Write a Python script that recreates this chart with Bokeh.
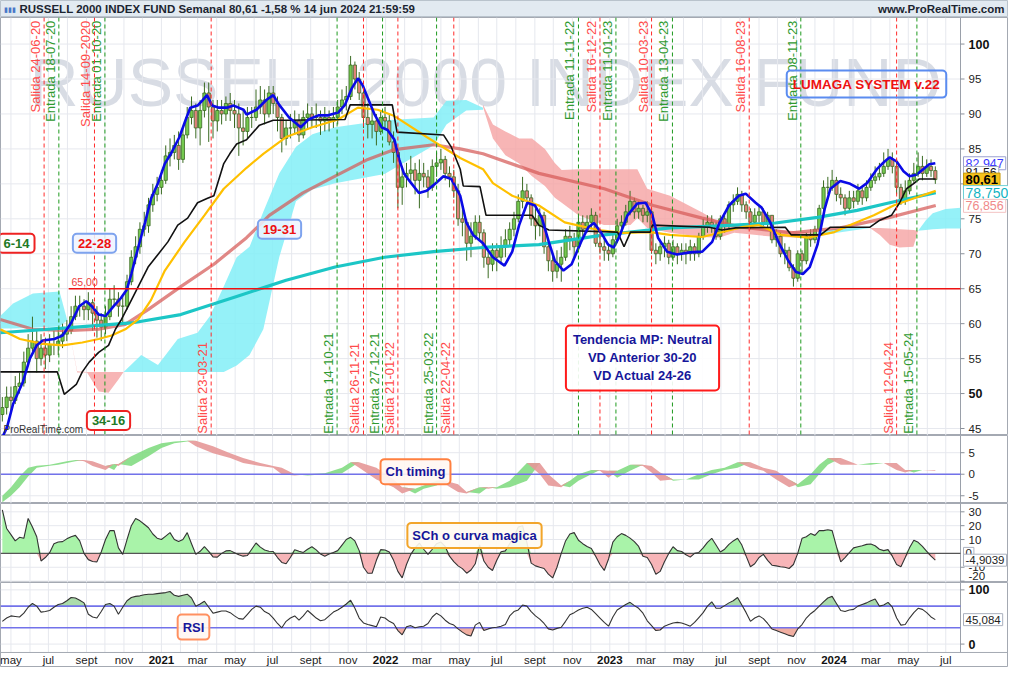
import numpy as np
import pandas as pd
from bokeh.plotting import figure
from bokeh.layouts import column
from bokeh.models import Range1d, Span, Label, ColumnDataSource
from bokeh.core.properties import value
from bokeh.embed import file_html
from bokeh.resources import INLINE

FONT = "Liberation Sans"

# ---------------------------------------------------------------- data
first_bar = "2020-04-17"          # first weekly bar shown
x_start, x_end = "2020-04-14", "2024-07-25"

close = [48.0, 49.5, 49.0, 51.0, 51.5, 54.5, 56.5, 57.5, 55.0, 56.5,
         55.5, 57.0, 57.0, 57.5, 58.5, 59.0, 61.0, 62.5, 62.5, 62.0,
         63.0, 61.5, 60.5, 59.5, 61.0, 63.5, 63.5, 62.5, 62.5, 66.0,
         69.5, 71.0, 73.5, 74.0, 77.0, 78.5, 79.5, 80.5, 84.0, 84.5,
         85.5, 83.5, 87.0, 89.5, 90.5, 88.0, 90.5, 93.0, 91.0, 89.0,
         90.5, 90.0, 91.5, 90.5, 90.0, 88.0, 87.5, 89.5, 89.5, 91.0,
         92.0, 90.0, 93.0, 91.5, 89.5, 86.5, 88.0, 88.0, 89.0, 87.0,
         89.5, 90.0, 89.5, 89.5, 89.0, 89.5, 89.0, 89.5, 91.0, 92.0,
         92.5, 97.0, 95.0, 93.0, 89.5, 88.5, 89.0, 87.5, 89.5, 89.0,
         86.0, 84.5, 79.5, 81.0, 81.5, 82.0, 80.5, 81.5, 81.0, 79.5,
         82.5, 83.0, 83.5, 81.5, 81.0, 79.0, 75.0, 74.5, 71.5, 72.5,
         74.5, 73.0, 69.5, 68.5, 70.5, 69.5, 71.0, 72.0, 73.5, 75.0,
         77.5, 79.0, 78.0, 75.0, 74.0, 75.5, 71.0, 69.0, 67.5, 68.5,
         69.5, 72.5, 72.0, 71.0, 74.5, 73.5, 74.5, 75.5, 71.5, 71.0,
         70.5, 70.0, 72.0, 74.0, 74.5, 76.0, 77.5, 76.0, 76.5, 75.5,
         76.0, 70.5, 70.0, 71.0, 71.5, 69.5, 71.0, 70.0, 70.5, 70.0,
         71.0, 70.0, 72.5, 74.0, 74.5, 74.0, 72.5, 75.0, 74.0, 77.0,
         77.5, 78.5, 77.0, 76.0, 74.5, 75.5, 76.0, 74.5, 75.5, 72.0,
         72.5, 70.0, 70.5, 68.0, 66.5, 70.0, 69.0, 72.5, 72.0, 73.5,
         76.5, 79.5, 79.5, 80.5, 78.5, 78.0, 76.5, 78.0, 77.5, 79.0,
         78.0, 79.5, 80.5, 81.0, 81.5, 82.5, 83.5, 82.5, 79.5, 77.5,
         79.0, 80.5, 81.5, 82.5, 81.5, 82.5, 81.9, 80.61]

open_ = [47.0, 48.0, 49.5, 49.0, 51.0, 51.5, 54.5, 56.5, 57.5, 55.0,
         56.5, 55.5, 57.0, 57.0, 57.5, 58.5, 59.0, 61.0, 62.5, 62.5,
         62.0, 63.0, 61.5, 60.5, 59.5, 61.0, 63.5, 63.5, 62.5, 62.5,
         66.0, 69.5, 71.0, 73.5, 74.0, 77.0, 78.5, 79.5, 80.5, 84.0,
         84.5, 85.5, 83.5, 87.0, 89.5, 90.5, 88.0, 90.5, 93.0, 91.0,
         89.0, 90.5, 90.0, 91.5, 90.5, 90.0, 88.0, 87.5, 89.5, 89.5,
         91.0, 92.0, 90.0, 93.0, 91.5, 89.5, 86.5, 88.0, 88.0, 89.0,
         87.0, 89.5, 90.0, 89.5, 89.5, 89.0, 89.5, 89.0, 89.5, 91.0,
         92.0, 92.5, 97.0, 95.0, 93.0, 89.5, 88.5, 89.0, 87.5, 89.5,
         89.0, 86.0, 84.5, 79.5, 81.0, 81.5, 82.0, 80.5, 81.5, 81.0,
         79.5, 82.5, 83.0, 83.5, 81.5, 81.0, 79.0, 75.0, 74.5, 71.5,
         72.5, 74.5, 73.0, 69.5, 68.5, 70.5, 69.5, 71.0, 72.0, 73.5,
         75.0, 77.5, 79.0, 78.0, 75.0, 74.0, 75.5, 71.0, 69.0, 67.5,
         68.5, 69.5, 72.5, 72.0, 71.0, 74.5, 73.5, 74.5, 75.5, 71.5,
         71.0, 70.5, 70.0, 72.0, 74.0, 74.5, 76.0, 77.5, 76.0, 76.5,
         75.5, 76.0, 70.5, 70.0, 71.0, 71.5, 69.5, 71.0, 70.0, 70.5,
         70.0, 71.0, 70.0, 72.5, 74.0, 74.5, 74.0, 72.5, 75.0, 74.0,
         77.0, 77.5, 78.5, 77.0, 76.0, 74.5, 75.5, 76.0, 74.5, 75.5,
         72.0, 72.5, 70.0, 70.5, 68.0, 66.5, 70.0, 69.0, 72.5, 72.0,
         73.5, 76.5, 79.5, 79.5, 80.5, 78.5, 78.0, 76.5, 78.0, 77.5,
         79.0, 78.0, 79.5, 80.5, 81.0, 81.5, 82.5, 83.5, 82.5, 79.5,
         77.5, 79.0, 80.5, 81.5, 82.5, 81.5, 82.5, 81.9]

high = [49.5, 51.0, 51.0, 52.5, 53.0, 56.0, 58.5, 61.0, 59.0, 58.5,
        58.0, 58.5, 59.0, 59.5, 60.0, 60.5, 62.5, 64.0, 64.0, 63.5,
        64.5, 63.5, 62.5, 61.5, 62.5, 65.0, 65.5, 64.5, 64.0, 67.0,
        70.5, 72.5, 74.5, 76.0, 78.0, 80.0, 81.0, 82.0, 85.5, 86.5,
        87.0, 87.5, 88.0, 91.0, 92.5, 91.5, 92.0, 94.5, 94.5, 92.0,
        92.0, 92.0, 92.5, 93.0, 92.0, 91.5, 90.5, 91.0, 91.0, 93.5,
        94.0, 93.5, 94.0, 94.0, 92.5, 90.0, 89.0, 90.0, 90.5, 90.0,
        90.5, 91.5, 91.0, 91.5, 90.5, 91.0, 90.5, 91.0, 92.0, 93.5,
        94.0, 98.3, 97.5, 96.0, 94.0, 91.5, 91.0, 90.0, 90.5, 91.0,
        90.0, 87.5, 85.0, 82.5, 83.0, 84.0, 83.0, 83.5, 83.0, 82.0,
        83.5, 84.5, 85.0, 84.0, 82.5, 82.0, 80.0, 77.0, 75.0, 74.5,
        75.5, 75.5, 73.5, 70.5, 71.5, 71.5, 72.5, 73.5, 74.5, 76.0,
        78.5, 81.0, 80.0, 78.5, 76.5, 76.5, 76.0, 71.5, 70.0, 70.5,
        71.0, 73.5, 74.0, 73.0, 75.5, 75.5, 75.5, 76.5, 76.0, 73.5,
        72.5, 71.5, 73.0, 75.0, 75.5, 77.0, 79.0, 78.0, 77.5, 77.0,
        77.5, 76.5, 71.5, 72.0, 72.5, 72.0, 72.0, 71.5, 71.5, 71.5,
        72.0, 71.5, 73.0, 75.0, 75.5, 75.5, 74.5, 75.5, 75.5, 77.5,
        78.5, 79.5, 79.0, 77.5, 76.5, 76.5, 77.0, 76.5, 76.0, 75.5,
        73.5, 73.0, 71.5, 71.0, 68.5, 70.5, 70.5, 73.0, 73.5, 74.0,
        77.0, 80.5, 81.0, 82.0, 81.0, 79.5, 78.5, 79.0, 79.0, 80.0,
        79.5, 80.5, 81.5, 82.5, 83.0, 84.5, 85.0, 84.5, 83.5, 80.0,
        80.5, 81.5, 83.0, 84.5, 84.0, 83.5, 83.5, 82.5]

low = [46.0, 47.0, 47.5, 48.5, 50.0, 51.0, 54.0, 56.0, 53.0, 54.0,
       53.5, 54.5, 55.5, 55.5, 56.5, 57.5, 58.5, 60.5, 61.0, 60.5,
       60.5, 59.0, 58.0, 57.5, 58.5, 60.5, 62.5, 61.0, 60.0, 62.0,
       65.5, 68.5, 70.0, 72.5, 73.0, 76.0, 77.5, 78.5, 80.0, 82.5,
       83.5, 82.0, 83.0, 86.5, 88.5, 86.5, 85.5, 89.5, 86.0, 86.5,
       87.5, 88.5, 89.0, 89.0, 88.0, 84.0, 85.5, 86.5, 88.0, 89.0,
       90.0, 88.5, 89.5, 90.0, 87.5, 84.5, 85.5, 86.5, 87.0, 86.0,
       86.5, 88.0, 88.0, 88.0, 87.0, 87.5, 87.5, 88.0, 88.5, 90.0,
       90.5, 92.0, 93.5, 92.0, 88.0, 86.5, 86.5, 85.5, 87.0, 88.0,
       85.5, 83.0, 76.5, 77.0, 79.5, 80.0, 78.5, 76.5, 79.5, 78.0,
       79.0, 81.0, 82.0, 80.5, 79.5, 78.0, 74.0, 72.5, 69.0, 69.5,
       72.0, 72.0, 68.0, 66.5, 67.5, 67.5, 68.5, 69.5, 71.0, 72.5,
       74.5, 76.5, 77.0, 74.0, 72.0, 72.5, 70.0, 67.5, 66.0, 66.5,
       66.0, 69.0, 70.5, 69.5, 70.5, 72.5, 73.0, 73.5, 71.0, 70.0,
       69.0, 69.0, 69.5, 71.5, 73.0, 74.0, 75.5, 75.0, 75.0, 74.5,
       74.5, 70.0, 68.5, 69.0, 69.5, 68.5, 69.0, 68.5, 69.0, 68.5,
       69.0, 69.0, 69.5, 72.0, 73.0, 73.0, 72.0, 72.0, 73.0, 73.5,
       76.0, 77.0, 76.0, 75.0, 73.5, 74.0, 74.5, 74.0, 73.5, 71.5,
       71.0, 69.5, 68.5, 67.5, 65.3, 66.0, 67.0, 68.5, 71.0, 71.5,
       73.0, 76.0, 78.5, 79.0, 77.5, 77.0, 75.5, 76.0, 76.5, 77.0,
       77.0, 77.5, 79.0, 80.0, 80.5, 81.0, 82.0, 81.5, 78.5, 77.0,
       77.0, 78.5, 80.0, 81.0, 80.5, 81.0, 81.0, 80.0]

# indicator lines, sampled at (weeks since first bar, value)
blue_wk = [0.2, 1.1, 2.5, 4.8, 6.4, 8.0, 9.4, 12.1, 14.0, 16.0,
           17.9, 19.5, 20.8, 22.4, 24.0, 25.9, 27.5, 28.9, 30.0, 31.6,
           33.2, 34.6, 36.2, 37.8, 39.2, 41.2, 42.6, 43.7, 45.4, 46.5,
           47.6, 48.8, 50.4, 52.2, 53.8, 56.1, 56.8, 59.1, 61.4, 63.0,
           64.4, 66.7, 69.4, 71.2, 73.5, 75.8, 78.1, 79.7, 81.3, 82.7,
           83.8, 85.0, 86.6, 88.2, 89.6, 91.2, 92.3, 93.4, 95.1, 96.9,
           98.7, 100.8, 102.6, 104.4, 106.5, 107.9, 109.5, 111.8, 114.1, 116.8,
           118.6, 120.2, 122.1, 123.9, 125.5, 127.1, 128.5, 130.5, 132.4, 134.6,
           136.3, 137.6, 139.2, 140.9, 142.2, 143.4, 145.4, 147.7, 149.6, 151.2,
           152.5, 154.6, 156.9, 159.9, 162.8, 165.1, 166.7, 169.0, 171.3, 172.9,
           175.2, 176.6, 178.6, 180.5, 182.8, 184.6, 186.2, 187.8, 189.6, 191.3,
           192.6, 194.9, 197.2, 199.3, 201.1, 203.4, 205.2, 206.4, 208.0, 209.6,
           211.0, 212.6, 214.2, 215.6, 217.0]
blue_val = [44.0, 45.2, 48.5, 51.7, 55.0, 56.9, 57.6, 57.8, 58.3, 60.1,
            62.5, 63.2, 62.5, 61.3, 61.1, 62.5, 63.6, 64.8, 67.1, 70.9,
            74.5, 77.9, 80.1, 82.9, 84.3, 86.7, 89.1, 90.9, 91.2, 91.9,
            92.7, 91.2, 90.9, 90.9, 91.2, 90.6, 89.9, 90.6, 92.0, 92.7,
            91.3, 89.5, 88.1, 89.2, 89.8, 89.8, 90.2, 91.3, 93.7, 95.1,
            94.1, 92.3, 89.9, 88.1, 87.7, 86.3, 83.5, 81.5, 80.1, 78.7,
            79.0, 80.1, 81.1, 80.7, 78.3, 74.5, 72.7, 71.5, 69.5, 68.3,
            70.3, 74.1, 77.3, 76.9, 75.1, 71.7, 69.0, 67.6, 68.5, 71.7,
            73.8, 74.4, 73.1, 71.3, 70.9, 72.3, 75.5, 77.2, 77.3, 75.5,
            72.3, 70.3, 69.9, 70.2, 70.3, 71.7, 74.3, 76.9, 78.3, 78.6,
            77.3, 76.6, 74.5, 71.7, 69.0, 67.4, 67.1, 68.1, 71.3, 76.5,
            79.3, 80.4, 80.0, 79.3, 80.1, 82.1, 83.2, 83.8, 83.2, 81.8,
            81.1, 81.3, 82.1, 82.8, 82.95]

black_wk = [-0.5, 12.8, 14.4, 17.2, 18.6, 20.2, 22.4, 24.7, 26.3, 27.7,
            29.3, 31.6, 33.9, 36.2, 38.5, 40.8, 43.1, 45.4, 47.6, 49.2,
            51.5, 52.9, 54.5, 56.8, 59.8, 63.0, 66.0, 79.7, 80.9, 90.7,
            91.8, 102.6, 104.4, 106.5, 107.2, 111.1, 112.5, 123.2, 124.8, 127.1,
            143.1, 144.6, 146.1, 150.7, 151.2, 164.4, 167.4, 170.6, 182.1, 183.5,
            190.3, 192.6, 201.8, 204.1, 206.8, 208.7, 210.3, 212.1, 213.3, 217.1]
black_val = [53.1, 53.1, 49.9, 51.3, 53.1, 54.5, 55.9, 56.9, 59.2, 60.6,
             62.5, 65.3, 68.1, 69.9, 71.7, 74.1, 75.1, 77.3, 77.9, 78.3,
             82.9, 84.3, 85.7, 86.3, 88.4, 89.1, 89.1, 89.2, 91.3, 91.3,
             87.4, 87.0, 85.3, 82.1, 79.7, 79.6, 75.5, 75.5, 74.1, 73.4,
             73.1, 71.0, 73.1, 73.1, 74.1, 73.8, 73.4, 73.7, 73.8, 72.7,
             72.7, 73.8, 73.8, 74.8, 75.5, 77.3, 79.3, 80.1, 80.7, 80.7]

yellow_wk = [-0.5, 4.1, 9.4, 14.0, 18.6, 22.4, 25.4, 28.6, 31.6, 34.6,
             37.8, 42.4, 47.0, 51.5, 56.8, 60.7, 66.0, 72.1, 78.1, 82.7,
             87.3, 91.2, 98.7, 106.5, 111.8, 114.1, 118.6, 124.8, 130.8, 138.6,
             144.5, 150.7, 155.3, 162.8, 172.0, 175.9, 181.2, 187.4, 193.5, 197.2,
             202.7, 207.3, 211.9, 217.1]
yellow_val = [59.2, 57.8, 57.1, 56.9, 57.3, 57.8, 58.3, 59.2, 60.6, 63.4,
              67.6, 71.7, 75.5, 79.3, 82.3, 84.3, 86.7, 88.1, 89.2, 90.9,
              90.6, 89.7, 86.7, 83.7, 82.1, 80.1, 78.3, 76.9, 74.5, 73.4,
              73.0, 73.1, 72.7, 72.4, 73.8, 74.1, 72.7, 72.3, 73.1, 74.1,
              75.5, 76.9, 77.9, 79.0]

red_wk = [-0.5, 7.1, 14.9, 22.4, 28.6, 33.9, 41.5, 49.2, 56.8, 62.1,
          69.9, 77.4, 85.0, 91.2, 100.3, 106.5, 111.8, 124.8, 140.0, 151.4,
          162.8, 172.0, 183.5, 194.9, 206.4, 217.1]
red_val = [60.6, 59.2, 59.0, 59.2, 59.9, 62.0, 65.3, 68.5, 72.3, 75.5,
           78.7, 81.1, 83.5, 84.9, 85.6, 85.0, 84.3, 81.5, 79.3, 76.9,
           75.1, 73.8, 73.0, 73.7, 75.2, 76.9]

cyan_wk = [-0.5, 14.9, 30.0, 41.5, 54.5, 66.0, 77.4, 88.9, 100.3, 111.8,
           124.8, 140.0, 155.3, 166.7, 179.8, 189.6, 198.8, 206.4, 217.1]
cyan_val = [58.7, 59.4, 60.1, 61.3, 63.9, 66.2, 68.1, 69.5, 70.3, 70.9,
            71.3, 72.7, 73.7, 74.0, 74.4, 75.2, 76.2, 77.3, 78.75]

# Ichimoku cloud pieces: weeks, upper edge, lower edge
kumo_up = [
    ([-0.5, 2.5, 7.1, 13.3, 15.1], [61.1, 62.9, 64.3, 64.6, 60.5], [59.3, 59.3, 59.4, 59.6, 60.5]),
    ([28.2, 32.3, 36.2, 40.8, 45.4, 48.3, 51.5, 54.5, 57.5, 60.7, 64.4, 68.3, 72.1, 77.4, 88.9, 100.3, 103.3, 107.9, 111.8],
     [53.1, 55.5, 54.1, 57.8, 58.7, 61.1, 65.3, 69.5, 71.0, 76.0, 81.5, 85.3, 87.1, 88.1, 89.1, 89.5, 91.9, 92.0, 90.9],
     [53.1, 53.1, 53.1, 53.1, 53.1, 53.1, 53.1, 54.0, 55.5, 59.2, 69.5, 77.5, 79.2, 80.1, 81.4, 85.5, 88.5, 90.5, 90.6]),
    ([189.6, 194.2, 201.8], [73.0, 73.6, 73.8], [72.6, 73.0, 73.7]),
    ([213.0, 214.8, 216.4, 219.4, 222.9], [73.3, 74.8, 75.8, 76.4, 76.6], [73.3, 73.4, 73.5, 73.6, 73.6]),
]
kumo_dn = [
    ([15.1, 17.4, 19.7, 22.4, 24.7, 27.0, 28.2], [60.5, 53.2, 53.1, 53.1, 53.1, 53.1, 53.1], [60.5, 53.0, 53.0, 50.3, 50.1, 52.0, 53.1]),
    ([111.8, 114.1, 117.0, 120.2, 123.2, 126.2, 128.5, 130.1, 134.0, 139.9, 146.1, 147.7, 150.0, 155.3, 162.8, 166.7, 170.2],
     [91.3, 88.5, 87.5, 86.5, 86.5, 85.0, 83.0, 82.0, 82.1, 82.1, 82.1, 82.1, 79.3, 78.3, 75.9, 74.5, 74.0],
     [91.0, 86.5, 84.1, 82.9, 81.1, 79.7, 78.0, 77.3, 75.5, 74.1, 74.1, 75.1, 73.7, 73.0, 72.4, 72.3, 73.0]),
    ([170.2, 178.2, 185.1, 189.6], [74.0, 73.6, 73.2, 73.0], [73.0, 72.5, 72.3, 72.6]),
    ([201.8, 204.1, 206.4, 208.7, 211.9, 213.0], [73.7, 73.7, 73.6, 73.5, 73.4, 73.3], [73.7, 72.7, 71.3, 70.9, 71.0, 73.3]),
]

level_value = 65.0
level_from = "2020-08-03"

signal_dates = ["2020-06-24", "2020-07-18", "2020-09-14", "2020-10-01", "2021-03-23",
                "2021-10-14", "2021-11-26", "2021-12-27", "2022-01-21", "2022-03-25",
                "2022-04-22", "2022-11-11", "2022-12-16", "2023-01-11", "2023-03-10",
                "2023-04-13", "2023-08-16", "2023-11-08", "2024-04-12", "2024-05-15"]
signal_text = ["Salida 24-06-20", "Entrada 18-07-20", "Salida 14-09-2020", "Entrada 01-10-20",
               "Salida 23-03-21", "Entrada 14-10-21", "Salida 26-11-21", "Entrada 27-12-21",
               "Salida 21-01-22", "Entrada 25-03-22", "Salida 22-04-22", "Entrada 11-11-22",
               "Salida 16-12-22", "Entrada 11-01-23", "Salida 10-03-23", "Entrada 13-04-23",
               "Salida 16-08-23", "Entrada 08-11-23", "Salida 12-04-24", "Entrada 15-05-24"]
signal_at_top = [True, True, True, True, False, False, False, False, False, False,
                 False, True, True, True, True, True, True, True, False, False]

# Ch timing (fast line and slow line, weeks since first bar)
ch_wk = [0, 2, 4, 6, 8, 11, 13, 15, 17, 19, 21, 24, 26, 27, 30, 34, 37, 40, 43, 45,
         49, 53, 56, 60, 63, 65, 68, 71, 75, 79, 81, 83, 87, 91, 93, 96, 98, 101, 103, 106,
         108, 111, 113, 115, 118, 122, 125, 127, 130, 132, 134, 137, 139, 141, 143, 146, 149, 151, 153, 156,
         159, 162, 165, 168, 171, 174, 177, 180, 183, 185, 188, 190, 192, 195, 199, 202, 205, 208, 210, 212,
         214, 217]
ch_main = [-5.0, -3.0, -0.5, 1.5, 2.0, 2.2, 2.6, 3.0, 3.3, 3.0, 1.9, 1.0, 2.4, 1.9, 4.2, 6.1, 7.2, 7.6, 7.8, 6.5,
           4.9, 3.8, 2.6, 1.9, 1.5, 0.0, -0.3, 0.0, 0.2, 1.5, 2.8, 1.5, -1.2, -3.0, -4.5, -3.4, -2.6, -1.5, -2.3, -4.1,
           -4.5, -3.0, -3.4, -3.0, -1.5, 2.6, 0.0, -2.6, -3.0, -1.5, 0.0, 1.0, 0.8, -0.8, 0.8, 2.2, 1.9, 0.4, -1.5, -1.2,
           -1.2, 0.0, 1.0, 1.5, 2.8, 1.5, 0.8, -1.2, -3.0, -2.3, 0.0, 2.2, 3.8, 2.2, 2.2, 2.6, 2.6, 1.0, 0.4, 1.0,
           1.0, 0.8]
ch_signal = [-6.5, -5.0, -3.0, -0.5, 1.5, 2.0, 2.2, 2.6, 3.0, 3.3, 3.0, 1.9, 1.0, 2.4, 1.9, 4.2, 6.1, 7.2, 7.6, 7.8,
             6.5, 4.9, 3.8, 2.6, 1.9, 1.5, 0.0, -0.3, 0.0, 0.2, 1.5, 2.8, 1.5, -1.2, -3.0, -4.5, -3.4, -2.6, -1.5, -2.3,
             -4.1, -4.5, -3.0, -3.4, -3.0, -1.5, 2.6, 0.0, -2.6, -3.0, -1.5, 0.0, 1.0, 0.8, -0.8, 0.8, 2.2, 1.9, 0.4, -1.5,
             -1.2, -1.2, 0.0, 1.0, 1.5, 2.8, 1.5, 0.8, -1.2, -3.0, -2.3, 0.0, 2.2, 3.8, 2.2, 2.2, 2.6, 2.6, 1.0, 0.4,
             1.0, 1.0]

# SCh o curva magica (one value per weekly bar)
sch = [31.4, 18, 13.5, 9, 11.6, 10.9, 25.2, 19, 12, -5.5,
       -3, 0.5, 7, 8.2, 8.5, 10.5, 12, 13, 9, 0,
       -4.5, -5.8, -6.1, 1, 10, 16.4, 16.4, 4, -0.7, 10,
       20, 25.2, 23.5, 21, 18.5, 14, 11, 10, 12.5, 15,
       10, 8.5, 10, 15, 7, -0.7, 1.5, 4.8, 1.5, -2.5,
       -2.7, 0, 1.8, 2, 0.5, -1, -2, -1.5, 3, 7.5,
       4.5, 2.5, 1.6, 1.4, -3, -6.5, -7.5, -3, 2.7, 1.5,
       0.7, 3, 4.8, 2.5, -0.5, -2, -0.5, 0.7, 2, 6,
       10, 11.6, 9, 2, -10, -14.3, -14.3, -5, 2.7, 2.5,
       1, -5, -13, -17.7, -8, -0.7, 4, 7.5, 3, -0.7,
       3, 7, 8.2, 5, -2, -6, -9, -11, -14.3, -12,
       -7.5, 6.1, -5.5, -10, -12.3, -5, 1.2, 1.8, 7, 12,
       19, 20, 8, -7, -9, -10, -10.9, -15, -17.7, -10,
       0, 9, 14, 15, 9.5, 7, 5, 3.5, -2, -8,
       -12.3, -4, 8.2, 12, 14.3, 13, 11, 8.5, 5, -2,
       -3, -8, -15, -13, -6, 0, 4.8, 2, 1.4, -1,
       -2.7, 0, 0.7, 4, 8, 10.9, 6, 1, 3, 6.5,
       9, 10.9, 6, -2, -9.6, -7.5, -3, -0.7, -5, -8.5,
       -9, -9.6, -10, -10.9, -8, 0, 10.9, 12, 14.3, 13,
       16.4, 16.4, 17, 16.4, 5, -6.1, -3, 0.5, 4, 4.8,
       5.5, 6.5, 6.8, 5.5, 3, 2, 2.7, -2, -8, -9.6,
       -3, 4, 9.5, 8, 5, 1.5, -2, -4.9039]

# RSI (one value per weekly bar)
rsi = [42, 48, 52, 51, 50, 57, 68, 75, 70, 59,
       60, 62, 68, 73, 75, 80, 86, 85, 81, 76,
       55, 50, 48, 60, 73, 75, 70, 55, 68, 80,
       86, 88, 89, 91, 92, 92, 93, 94, 95, 97,
       90, 88, 90, 92, 85, 70, 74, 79, 68, 57,
       59, 61, 61, 58, 52, 47, 46, 55, 64, 70,
       68, 60, 56, 48, 38, 30, 42, 48, 52, 44,
       52, 62, 55, 48, 43, 45, 52, 59, 63, 68,
       74, 81, 66, 48, 39, 36, 34, 32, 50, 48,
       42, 38, 25, 17, 32, 34, 30, 32, 33, 38,
       50, 57, 52, 44, 38, 35, 28, 22, 17, 15,
       35, 40, 25, 28, 30, 31, 33, 36, 52, 60,
       63, 72, 70, 60, 52, 46, 38, 28, 26, 29,
       31, 42, 54, 58, 63, 66, 68, 64, 56, 48,
       40, 33, 50, 63, 68, 73, 77, 71, 66, 57,
       43, 34, 25, 26, 33, 36, 39, 40, 39, 36,
       33, 40, 49, 58, 70, 78, 66, 66, 71, 76,
       80, 86, 72, 58, 42, 48, 52, 47, 38, 28,
       25, 22, 19, 16, 14, 28, 36, 48, 56, 62,
       70, 78, 85, 88, 75, 62, 60, 63, 64, 70,
       73, 76, 80, 83, 70, 72, 77, 68, 48, 35,
       36, 48, 58, 66, 64, 58, 50, 45.084]

tick_dates = ["2020-05-01", "2020-07-01", "2020-09-01", "2020-11-01", "2021-01-01", "2021-03-01",
              "2021-05-01", "2021-07-01", "2021-09-01", "2021-11-01", "2022-01-01", "2022-03-01",
              "2022-05-01", "2022-07-01", "2022-09-01", "2022-11-01", "2023-01-01", "2023-03-01",
              "2023-05-01", "2023-07-01", "2023-09-01", "2023-11-01", "2024-01-01", "2024-03-01",
              "2024-05-01", "2024-07-01"]
tick_labels = ["may", "jul", "sept", "nov", "2021", "mar", "may", "jul", "sept", "nov", "2022", "mar",
               "may", "jul", "sept", "nov", "2023", "mar", "may", "jul", "sept", "nov", "2024", "mar",
               "may", "jul"]
price_ticks = [45, 50, 55, 60, 65, 70, 75, 80, 85, 90, 95, 100]
price_bold = [50, 100]

# ---------------------------------------------------------------- helpers
DAY = 86400000.0


def ms(d):
    return pd.Timestamp(d).value // 10**6


T0 = ms(first_bar)


def wk_ms(w):
    return T0 + np.asarray(w, dtype=float) * 7 * DAY


W = 1008          # figure width
PW = 960          # width of the chart area (the price scale sits to its right)
XS, XE = ms(x_start), ms(x_end)
MPP = (XE - XS) / PW                       # ms per pixel
xr = Range1d(XS, XS + MPP * W)
month_ms = [ms(d) for d in pd.date_range("2020-05-01", "2024-07-01", freq="MS")]
GRID = "#e6e8ee"


def panel(height, y0, y1, grid_y0=None):
    f = figure(width=W, height=height, x_range=xr, y_range=Range1d(y0, y1),
               output_backend="svg", toolbar_location=None,
               x_axis_type=None, y_axis_type=None, min_border=0,
               background_fill_color="white", border_fill_color="white",
               outline_line_color="#a4a9b2")
    gy0 = y0 if grid_y0 is None else grid_y0
    f.segment(x0=month_ms, y0=[gy0] * len(month_ms), x1=month_ms, y1=[y1] * len(month_ms),
              line_color=GRID, line_width=1)
    return f


def scale(f, ticks, y0, y1, bold=(), size="11.5px", label_pos=None):
    n = len(ticks)
    ly = list(ticks) if label_pos is None else list(label_pos)
    f.segment(x0=[XS] * n, y0=ticks, x1=[XE] * n, y1=ticks, line_color=GRID, line_width=1)
    f.segment(x0=[XE], y0=[y0], x1=[XE], y1=[y1], line_color="#9aa0aa", line_width=1)
    f.segment(x0=[XE] * n, y0=ticks, x1=[XE + 4 * MPP] * n, y1=ticks, line_color="#8a909a")
    norm = [i for i, t in enumerate(ticks) if t not in bold]
    f.text(x=[XE] * len(norm), y=[ly[i] for i in norm], text=[str(ticks[i]) for i in norm],
           x_offset=8, text_baseline="middle", text_font=value(FONT), text_font_size=size,
           text_color="#222222")
    bl = [i for i, t in enumerate(ticks) if t in bold]
    if bl:
        f.text(x=[XE] * len(bl), y=[ly[i] for i in bl], text=[str(ticks[i]) for i in bl],
               x_offset=8, text_baseline="middle", text_font=value(FONT),
               text_font_size="12.5px", text_font_style="bold", text_color="#111111")


def box(f, x, y, text, color, border, size="13px", bg="white", bg_alpha=0.9,
        align="center", bw=2, pad=5):
    f.add_layout(Label(x=x, y=y, x_units="screen", text=text, text_color=color,
                       text_font=FONT, text_font_size=size, text_font_style="bold",
                       text_align=align, text_baseline="middle",
                       background_fill_color=bg, background_fill_alpha=bg_alpha,
                       border_line_color=border, border_line_width=bw,
                       padding=pad, border_radius=4))


def tag(f, y, text, color, bg="white", border="#aab0bd", bold=False, size="11.5px"):
    f.add_layout(Label(x=963, y=y, x_units="screen", text=text, text_color=color,
                       text_font=FONT, text_font_size=size,
                       text_font_style="bold" if bold else "normal",
                       text_align="left", text_baseline="middle",
                       background_fill_color=bg, border_line_color=border,
                       border_line_width=1, padding=2))


# ---------------------------------------------------------------- title bar
t = figure(width=W, height=17, x_range=Range1d(0, W), y_range=Range1d(0, 17),
           output_backend="svg", toolbar_location=None, x_axis_type=None, y_axis_type=None,
           min_border=0, outline_line_color="#b9c3cc",
           background_fill_color="#e2eaf1", border_fill_color="#e2eaf1")
t.add_layout(Label(x=19, y=8.5, text="RUSSELL 2000 INDEX FUND Semanal 80,61 -1,58 % 14 jun 2024 21:59:59",
                   text_font=FONT, text_font_size="11.5px", text_font_style="bold",
                   text_baseline="middle", text_color="#1b2430"))
t.add_layout(Label(x=W - 4, y=8.5, text="www.ProRealTime.com", text_font=FONT,
                   text_font_size="11.5px", text_font_style="bold", text_align="right",
                   text_baseline="middle", text_color="#1b2430"))
t.add_layout(Label(x=3, y=8.5, text="▮▮▮", text_font=FONT, text_font_size="7px",
                   text_baseline="middle", text_color="#4a78c8"))

# ---------------------------------------------------------------- main panel
PY0, PY1 = 44.0, 103.8
p = panel(418, PY0, PY1)
scale(p, price_ticks, PY0, PY1, bold=price_bold)

p.add_layout(Label(x=29, y=94.6, x_units="screen", text="RUSSELL 2000 INDEX FUND",
                   text_font=FONT, text_font_size="68px", text_color="#d8dce4",
                   text_baseline="alphabetic", level="underlay"))

for wk, a, b in kumo_up:
    p.varea(x=wk_ms(wk), y1=b, y2=a, fill_color="#83eff7", fill_alpha=0.85)
for wk, a, b in kumo_dn:
    p.varea(x=wk_ms(wk), y1=b, y2=a, fill_color="#f5a3a3", fill_alpha=0.8)

for d, s in zip(signal_dates, signal_text):
    p.add_layout(Span(location=ms(d), dimension="height",
                      line_color="#ff2a2a" if s.startswith("Salida") else "#1e9a1e",
                      line_dash="4 3", line_width=1))

xs = wk_ms(np.arange(len(close)))
o = np.array(open_)
c = np.array(close)
h = np.array(high)
lo = np.array(low)
up = c >= o
p.segment(x0=xs, y0=h, x1=xs, y1=lo, line_color="#3a6b22", line_width=1)
p.vbar(x=xs[up], width=5.2 * DAY, top=c[up], bottom=o[up],
       fill_color="#74c94f", line_color="#3a6b22", line_width=0.8)
p.vbar(x=xs[~up], width=5.2 * DAY, top=o[~up], bottom=c[~up],
       fill_color="#e0837b", line_color="#3a6b22", line_width=0.8)

p.line(wk_ms(red_wk), red_val, line_color="#d65a57", line_width=3.2, line_alpha=0.72)
p.line(wk_ms(cyan_wk), cyan_val, line_color="#1cc6c6", line_width=3.2)
p.line(wk_ms(yellow_wk), yellow_val, line_color="#ffc000", line_width=2.2)
p.line(wk_ms(black_wk), black_val, line_color="#111111", line_width=1.6)
p.line(wk_ms(blue_wk), blue_val, line_color="#0a0ae6", line_width=2.6)

p.segment(x0=[ms(level_from)], y0=[level_value], x1=[XE], y1=[level_value],
          line_color="#ee1111", line_width=1.6)
p.add_layout(Label(x=71, y=66.0, x_units="screen", text="65,00", text_font=FONT,
                   text_font_size="10.5px", text_color="#ee4040", text_baseline="middle"))

top_idx = [i for i, tp in enumerate(signal_at_top) if tp]
bot_idx = [i for i, tp in enumerate(signal_at_top) if not tp]
for idx, yv, align in ((top_idx, 103.35, "right"), (bot_idx, 44.25, "left")):
    src = ColumnDataSource(dict(x=[ms(signal_dates[i]) for i in idx],
                                y=[yv] * len(idx),
                                text=[signal_text[i] for i in idx],
                                color=["#ff4a4a" if signal_text[i].startswith("Salida") else "#2f9a2f"
                                       for i in idx]))
    p.text(x="x", y="y", text="text", source=src, angle=np.pi / 2, text_align=align,
           text_baseline="bottom", text_color="color", text_font=value(FONT),
           text_font_size="13px", x_offset=-1)

box(p, 866, 94.27, "LUMAGA SYSTEM v.22", "#ee1111", "#5b8cf0", size="13.5px", bg_alpha=0.0, pad=6)
box(p, 279, 73.5, "19-31", "#ee1111", "#7ea3ee", bg="#eef3ff", bg_alpha=0.85)
box(p, 94, 71.5, "22-28", "#ee1111", "#7ea3ee", bg="#eef3ff", bg_alpha=0.85)
box(p, -2, 71.5, "6-14", "#1f7a25", "#ee2222", align="left")
box(p, 108, 46.15, "34-16", "#1f7a25", "#ee2222")
box(p, 642, 55.1, "Tendencia MP: Neutral\nVD Anterior 30-20\nVD Actual 24-26", "#16169a",
    "#ff1a1a", size="13px", pad=7)
p.add_layout(Label(x=3, y=44.9, x_units="screen", text="ProRealTime.com", text_font=FONT,
                   text_font_size="10px", text_color="#333333", text_baseline="middle"))

tag(p, 82.947, "82,947", "#3b3bff", border="#9aa0d0", size="12.5px")
tag(p, 81.56, "81,56", "#111111", size="12.5px")
tag(p, 80.61, "80,61", "#000000", bg="#f6c21b", border="#c79a10", bold=True, size="13px")
tag(p, 78.75, "78,750", "#12b3c2", border="#6fd0d6", size="14px")
tag(p, 76.856, "76,856", "#f08a8a", border="#f3c3c3", size="12.5px")

# ---------------------------------------------------------------- Ch timing
CY0, CY1 = -6.8, 9.0
f1 = panel(68, CY0, CY1)
scale(f1, [-5, 0, 5], CY0, CY1)
cm = np.array(ch_main)
cs = np.array(ch_signal)
cx = wk_ms(ch_wk)
f1.varea(x=cx, y1=cs, y2=np.where(cm >= cs, cm, cs), fill_color="#83dc83", fill_alpha=0.9)
f1.varea(x=cx, y1=cm, y2=np.where(cm < cs, cs, cm), fill_color="#e69898", fill_alpha=0.9)
f1.segment(x0=[XS], y0=[0], x1=[XE], y1=[0], line_color="#7272ea", line_width=1.6)
box(f1, 415, 0.6, "Ch timing", "#16169a", "#ff8040", bg="#fff7f2", pad=5)

# ---------------------------------------------------------------- SCh
SY0, SY1 = -21.0, 36.0
f2 = panel(79, SY0, SY1)
sch_ticks = [-20, -10, 10, 20, 30]
scale(f2, sch_ticks, SY0, SY1, label_pos=[-16.5, -10, 10, 20, 30])
sv = np.array(sch, dtype=float)
f2.varea(x=xs, y1=0, y2=np.maximum(sv, 0), fill_color="#a9f3a9")
f2.varea(x=xs, y1=np.minimum(sv, 0), y2=0, fill_color="#f7b5b8")
f2.segment(x0=[XS], y0=[0], x1=[XE], y1=[0], line_color="#555555", line_width=1.4)
f2.line(xs, sv, line_color="#333333", line_width=1.1)
box(f2, 474, 13.0, "SCh o curva magica", "#16169a", "#f2a52a", bg="#fffbf2", pad=5)
tag(f2, 0, "0", "#222222")
tag(f2, -4.9039, "-4,9039", "#222222")

# ---------------------------------------------------------------- RSI + time scale
RY0, RY1 = -15.5, 113.6          # RSI area (70 px)
RYB = -43.2                      # bottom of the 15 px time-label strip
f3 = panel(85, RYB, RY1, grid_y0=RY0)
scale(f3, [0, 100], RY0, RY1, bold=(0, 100))
rv = np.array(rsi, dtype=float)
f3.varea(x=xs, y1=70, y2=np.maximum(rv, 70), fill_color="#8fd08f", fill_alpha=0.75)
f3.varea(x=xs, y1=np.minimum(rv, 30), y2=30, fill_color="#ec9a8a", fill_alpha=0.8)
for lv in (30, 70):
    f3.segment(x0=[XS], y0=[lv], x1=[XE], y1=[lv], line_color="#7272ea", line_width=1.6)
f3.line(xs, rv, line_color="#333333", line_width=1.1)
box(f3, 193, 31.3, "RSI", "#16169a", "#ff9060", bg="#fff7f2", pad=5)
tag(f3, 45.084, "45,084", "#222222")

f3.segment(x0=[XS], y0=[RY0], x1=[XS + MPP * W], y1=[RY0], line_color="#a4a9b2", line_width=1)
tick_ms = [ms(d) for d in tick_dates]
mon = [i for i, lab in enumerate(tick_labels) if not lab.isdigit()]
yrs = [i for i, lab in enumerate(tick_labels) if lab.isdigit()]
LAB_Y = -29.6
f3.text(x=[tick_ms[i] for i in mon], y=[LAB_Y] * len(mon), text=[tick_labels[i] for i in mon],
        text_align="center", text_baseline="middle", text_font=value(FONT),
        text_font_size="11.5px", text_color="#222222")
f3.text(x=[tick_ms[i] for i in yrs], y=[LAB_Y] * len(yrs), text=[tick_labels[i] for i in yrs],
        text_align="center", text_baseline="middle", text_font=value(FONT),
        text_font_size="11.5px", text_font_style="bold", text_color="#111111")

layout = column(t, p, f1, f2, f3, spacing=0)
open("out.html", "w").write(file_html(layout, INLINE))
